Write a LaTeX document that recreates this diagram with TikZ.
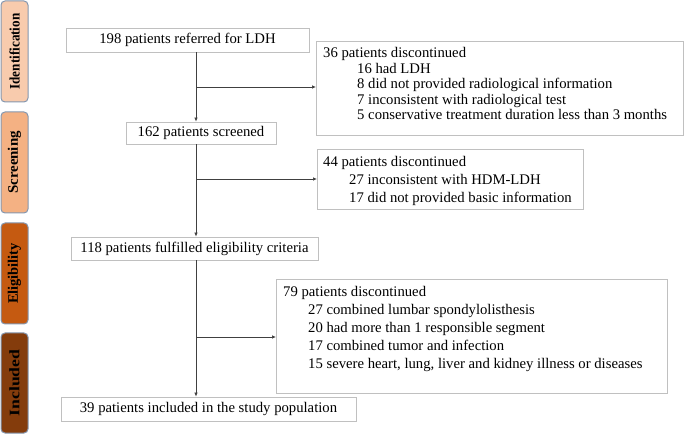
\documentclass[tikz,border=0pt]{standalone}
\usepackage{fontspec}
\setmainfont{Liberation Serif}
\usetikzlibrary{arrows.meta}
\definecolor{idc}{HTML}{F8CBAD}
\definecolor{scc}{HTML}{F4B183}
\definecolor{elc}{HTML}{C55A11}
\definecolor{inc}{HTML}{843C0C}
\definecolor{phb}{HTML}{8497B0}
\definecolor{boxgray}{HTML}{C0C0C0}
\definecolor{arrgray}{HTML}{404040}
\begin{document}
\begin{tikzpicture}[x=1pt,y=-1pt,
  phase/.style={draw=phb, rounded corners=4pt, line width=1pt, minimum height=27pt, inner sep=0pt, rotate=90, font=\bfseries\fontsize{14.5}{16}\selectfont},
  box/.style={draw=boxgray, line width=0.8pt, inner sep=0pt, font=\fontsize{14.7}{17}\selectfont},
  listA/.style={inner sep=0pt, align=left, anchor=north west, font=\fontsize{14.7}{15.4}\selectfont},
  listB/.style={inner sep=0pt, align=left, anchor=north west, font=\fontsize{14.7}{17.8}\selectfont},
  arr/.style={draw=arrgray, line width=0.7pt, -{Latex[length=4pt,width=3.5pt]}}
]
\useasboundingbox (0,0) rectangle (685,435);

% phase labels
\node[phase, fill=idc, minimum width=101pt] (p1) at (14.5,51.5) {\scalebox{0.907}[1]{Identification}};
\node[phase, fill=scc, minimum width=101pt] (p2) at (14.5,162.5) {\scalebox{1.03}[1]{Screening}};
\node[phase, fill=elc, minimum width=101pt] (p3) at (14.5,273.5) {\scalebox{0.995}[1]{Eligibility}};
\node[phase, fill=inc, minimum width=100pt] (p4) at (14.5,383) {\scalebox{1.22}[1]{Included}};

% main boxes
\node[box, minimum width=243pt, minimum height=24pt] (b1) at (187.5,40) {198 patients referred for LDH};
\node[box, minimum width=150pt, minimum height=22pt] (b2) at (201,133) {162 patients screened};
\node[box, minimum width=247pt, minimum height=23pt] (b3) at (194.5,248.5) {118 patients fulfilled eligibility criteria};
\node[box, minimum width=295pt, minimum height=24pt] (b4) at (208.5,409) {39 patients included in the study population};

% discontinued boxes
\node[box, anchor=north west, minimum width=367pt, minimum height=94pt] (d1) at (316,41) {};
\node[listA] (d1t) at (323,47.5) {36 patients discontinued\\
\hspace*{34pt}16 had LDH\\
\hspace*{34pt}8 did not provided radiological information\\
\hspace*{34pt}7 inconsistent with radiological test\\
\hspace*{34pt}5 conservative treatment duration less than 3 months};

\node[box, anchor=north west, minimum width=266pt, minimum height=60pt] (d2) at (317,149) {};
\node[listB] (d2t) at (323,156.5) {44 patients discontinued\\
\hspace*{26pt}27 inconsistent with HDM-LDH\\
\hspace*{26pt}17 did not provided basic information};

\node[box, anchor=north west, minimum width=391pt, minimum height=114pt] (d3) at (276,279) {};
\node[listB] (d3t) at (283,286.5) {79 patients discontinued\\
\hspace*{25pt}27 combined lumbar spondylolisthesis\\
\hspace*{25pt}20 had more than 1 responsible segment\\
\hspace*{25pt}17 combined tumor and infection\\
\hspace*{25pt}15 severe heart, lung, liver and kidney illness or diseases};

% connectors
\coordinate (c1) at (196,87);
\coordinate (c2) at (196,179);
\coordinate (c3) at (196,337);
\draw[arr] (b1.south -| c1) -- (b2.north -| c1);
\draw[arr] (b2.south -| c1) -- (b3.north -| c1);
\draw[arr] (b3.south -| c1) -- (b4.north -| c1);
\draw[arr] (c1) -- (d1.west |- c1);
\draw[arr] (c2) -- (d2.west |- c2);
\draw[arr] (c3) -- (d3.west |- c3);
\end{tikzpicture}
\end{document}
